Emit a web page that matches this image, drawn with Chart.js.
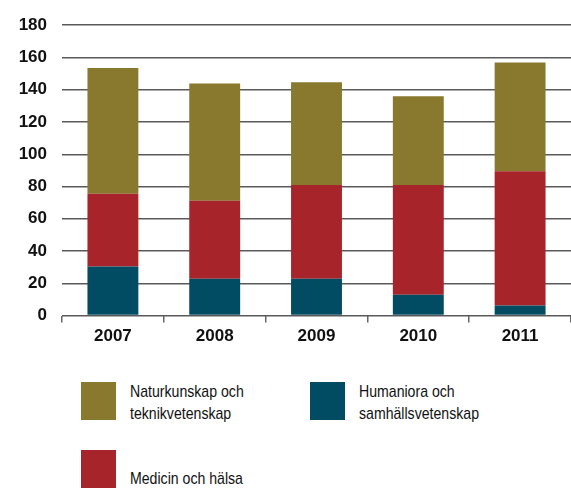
<!DOCTYPE html>
<html>
<head>
<meta charset="utf-8">
<script src="https://cdn.jsdelivr.net/npm/chart.js@4.4.0/dist/chart.umd.min.js"></script>
<style>
  html, body { margin: 0; padding: 0; background: #fff; }
  #wrap { position: relative; width: 571px; height: 488px; overflow: hidden; }
  #chartBox { position: absolute; left: 0; top: 0; width: 571px; height: 355px; }
  .sw { position: absolute; width: 35px; height: 38px; }
  .lt { position: absolute; font-family: "Liberation Sans", sans-serif; white-space: nowrap;
        font-size: 17px; line-height: 22px; color: #111;
        transform: scaleX(0.83); transform-origin: left top; }
</style>
</head>
<body>
<div id="wrap">
  <div id="chartBox"><canvas id="myChart"></canvas></div>
  <div id="legend"></div>
</div>
<script>
  // data
  var years = ["2007", "2008", "2009", "2010", "2011"];
  var humaniora = [30.5, 22.8, 22.8, 12.9, 6.3];
  var medicin = [45, 48.4, 58.1, 68, 83.2];
  var naturkunskap = [77.9, 72.7, 63.8, 55, 67.4];
  var yTicks = [0, 20, 40, 60, 80, 100, 120, 140, 160, 180];

  var seriesNames = ["Humaniora och samhällsvetenskap", "Medicin och hälsa", "Naturkunskap och teknikvetenskap"];
  var seriesColors = ["#024c63", "#a8242b", "#89792f"];

  var ctx = document.getElementById("myChart").getContext("2d");

  var data = {
    labels: years,
    datasets: [
      { label: seriesNames[0], data: humaniora, backgroundColor: seriesColors[0] },
      { label: seriesNames[1], data: medicin, backgroundColor: seriesColors[1] },
      { label: seriesNames[2], data: naturkunskap, backgroundColor: seriesColors[2] }
    ]
  };

  var tickFont = { family: "'Liberation Sans', sans-serif", size: 17, weight: "bold" };

  var options = {
    responsive: true,
    maintainAspectRatio: false,
    animation: false,
    layout: { padding: { top: 13, right: 0, bottom: 4, left: 0 } },
    plugins: { legend: { display: false }, tooltip: { enabled: false } },
    datasets: { bar: { categoryPercentage: 1, barPercentage: 0.5, borderWidth: 0 } },
    scales: {
      x: {
        stacked: true,
        border: { display: false },
        grid: { drawOnChartArea: false, drawTicks: true, tickLength: 7, color: "#666", lineWidth: 1.5 },
        ticks: { color: "#111", font: tickFont, padding: 4 }
      },
      y: {
        stacked: true,
        min: 0,
        max: 180,
        afterBuildTicks: function (scale) {
          scale.ticks = yTicks.map(function (v) { return { value: v }; });
        },
        afterFit: function (scale) { scale.width = 62; },
        border: { display: false },
        grid: { drawTicks: false, color: "#5a5a5a", lineWidth: 1.5 },
        ticks: { color: "#111", font: tickFont, padding: 15 }
      }
    }
  };

  var chart = new Chart(ctx, { type: "bar", data: data, options: options });

  // legend (order and place as in the original)
  var legendItems = [
    { i: 2, x: 81, y: 382, text: "Naturkunskap och<br>teknikvetenskap", ty: 381 },
    { i: 0, x: 310, y: 382, text: "Humaniora och<br>samhällsvetenskap", ty: 381 },
    { i: 1, x: 81, y: 450, text: "Medicin och hälsa", ty: 468 }
  ];
  var lg = document.getElementById("legend");
  legendItems.forEach(function (it) {
    var s = document.createElement("div");
    s.className = "sw";
    s.style.left = it.x + "px";
    s.style.top = it.y + "px";
    s.style.background = seriesColors[it.i];
    lg.appendChild(s);
    var t = document.createElement("div");
    t.className = "lt";
    t.style.left = (it.x + 49) + "px";
    t.style.top = it.ty + "px";
    t.innerHTML = it.text;
    lg.appendChild(t);
  });
</script>
</body>
</html>
